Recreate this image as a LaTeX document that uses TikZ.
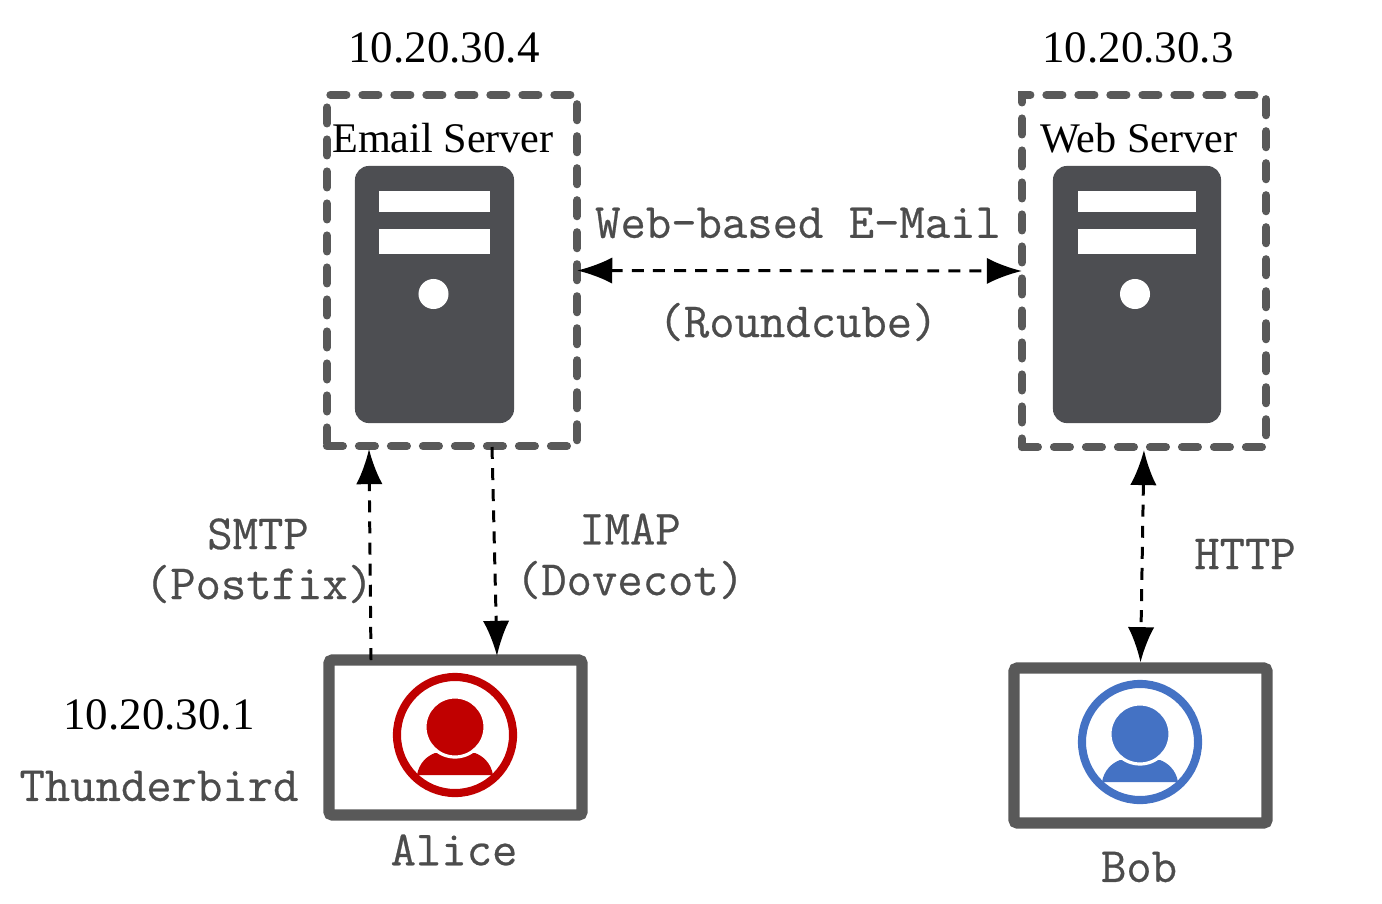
\documentclass[tikz,border=0pt]{standalone}
\usepackage{fontspec}
\setmainfont{Liberation Serif}
\newfontfamily\labelmono[FakeBold=0.5]{Latin Modern Mono}
\usetikzlibrary{arrows.meta}
\definecolor{boxgray}{HTML}{595959}
\definecolor{servergray}{HTML}{4D4E52}
\definecolor{alicered}{HTML}{C00000}
\definecolor{bobblue}{HTML}{4472C4}
\tikzstyle{hostbox} = [draw=boxgray,line width=2.3pt,line cap=round,dash pattern=on 4.55pt off 4.55pt,inner sep=0pt,outer sep=0pt]
\tikzstyle{serverbody} = [fill=servergray,rounded corners=4pt,inner sep=0pt]
\tikzstyle{serverbar} = [fill=white,inner sep=0pt]
\tikzstyle{serverled} = [circle,fill=white,minimum size=0.3cm,inner sep=0pt]
\tikzstyle{clientbox} = [draw=boxgray,line width=3.2pt,rounded corners=1pt,minimum width=2.53cm,minimum height=1.55cm,inner sep=0pt]
\tikzstyle{iptext} = [font=\fontsize{12.8}{14}\selectfont,text=black]
\tikzstyle{nametext} = [font=\fontsize{12}{14}\selectfont,text=black]
\tikzstyle{monotext} = [font=\labelmono\fontsize{14}{15}\selectfont,text=boxgray!85!black]
\tikzstyle{link} = [draw,line width=0.85pt,dash pattern=on 3.4pt off 2.6pt]
\begin{document}
\begin{tikzpicture}[x=0.01cm,y=-0.01cm,>={Latex[length=10pt,width=7.5pt]}]
    \useasboundingbox (0,0) rectangle (1382,903);

    % First we draw the hosts
    \node[hostbox,minimum width=2.5cm,minimum height=3.51cm] (emailbox) at (452,270.5) {};
    \node[hostbox,minimum width=2.44cm,minimum height=3.52cm] (webbox) at (1144,271) {};

    \foreach \pos/ \barx/ \name/ \wide/ \barwide in {{(434.5,294.5)/434.5/email/1.59cm/1.11cm},{(1137,294.5)/1137/web/1.68cm/1.18cm}} {
        \node[serverbody,minimum width=\wide,minimum height=2.57cm] (\name body) at \pos {};
        \node[serverbar,minimum width=\barwide,minimum height=0.21cm] (\name bara) at (\barx,201.5) {};
        \node[serverbar,minimum width=\barwide,minimum height=0.25cm] (\name barb) at (\barx,241.5) {};
    }
    \node[serverled] (emailled) at (433.5,294) {};
    \node[serverled] (webled) at (1135,294) {};

    % Now the two clients
    \node[clientbox] (alicebox) at (455.5,737.5) {};
    \node[clientbox] (bobbox) at (1140.5,745.5) {};

    \foreach \cx/ \cy/ \name/ \tint in {455/735/alice/alicered,1140/742/bob/bobblue} {
        \begin{scope}[shift={(\cx,\cy)}]
            \node[circle,draw=\tint,line width=2.3pt,minimum size=1.16cm,inner sep=0pt] (\name ring) at (0,0) {};
            \fill[\tint] (-38,40) .. controls (-36,28) and (-28,21) .. (-20,18) -- (20,18) .. controls (28,21) and (36,28) .. (38,40) -- cycle;
            \node[circle,fill=\tint,draw=white,line width=0.9pt,minimum size=0.6cm,inner sep=0pt] (\name head) at (0,-8) {};
        \end{scope}
    }

    % Free ends of the two mail links
    \coordinate (smtpfrom) at (371,660);
    \coordinate (smtpto) at (369,449);
    \coordinate (imapfrom) at (492,447);
    \coordinate (imapto) at (497,656);

    % Connect hosts with links
    \path[link,<->] (emailbox.east) -- (webbox.west);
    \path[link,->] (smtpfrom) -- (smtpto);
    \path[link,->] (imapfrom) -- (imapto);
    \path[link,<->,shorten <=0.8pt] (webbox.south) -- (bobbox.north);

    % Labels
    \foreach \pos/ \name/ \txt in {{(444,48)/emailip/10.20.30.4},{(1138,48)/webip/10.20.30.3},{(159,715)/aliceip/10.20.30.1}}
        \node[iptext] (\name) at \pos {\txt};

    \foreach \pos/ \name/ \txt in {{(443,138)/emailname/Email Server},{(1139,138)/webname/Web Server}}
        \node[nametext] (\name) at \pos {\txt};

    \foreach \pos/ \name/ \txt in {{(798,223)/webmail/Web-based E-Mail},{(798,322)/roundcube/(Roundcube)},{(258,534)/smtp/SMTP},{(259,584)/postfix/(Postfix)},{(630,529)/imap/IMAP},{(630,580)/dovecot/(Dovecot)},{(1245,554)/http/HTTP},{(159,786)/thunderbird/Thunderbird},{(454,850)/alice/Alice},{(1139,867)/bob/Bob}}
        \node[monotext] (\name) at \pos {\txt};
\end{tikzpicture}
\end{document}
